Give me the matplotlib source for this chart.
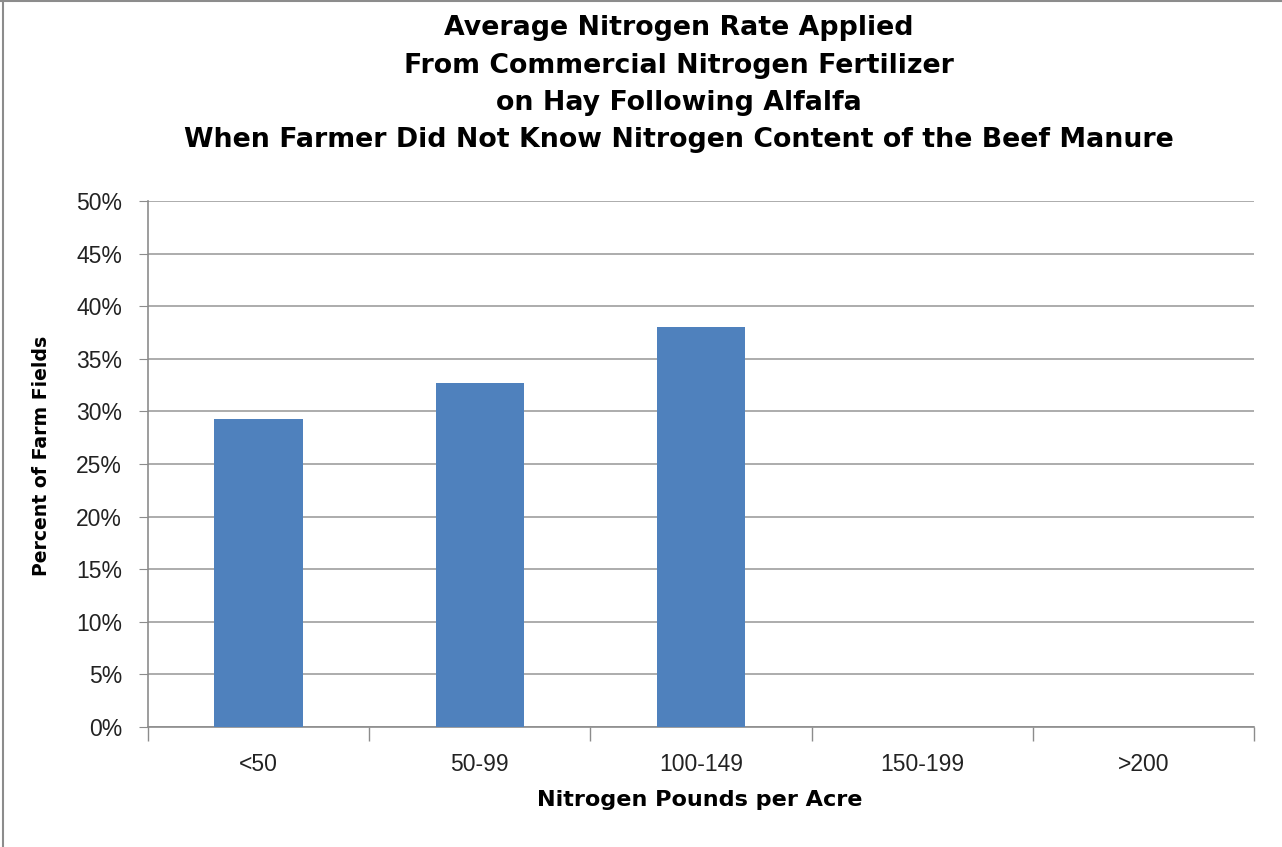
import matplotlib
matplotlib.use("Agg")
import matplotlib.pyplot as plt
from matplotlib.ticker import FixedLocator, PercentFormatter
from matplotlib.lines import Line2D

categories = ["<50", "50-99", "100-149", "150-199", ">200"]
values = [29.3, 32.7, 38.0, 0.0, 0.0]
yticks = [0, 5, 10, 15, 20, 25, 30, 35, 40, 45, 50]
title_lines = ["Average Nitrogen Rate Applied",
               "From Commercial Nitrogen Fertilizer",
               "on Hay Following Alfalfa",
               "When Farmer Did Not Know Nitrogen Content of the Beef Manure"]
xlabel = "Nitrogen Pounds per Acre"
ylabel = "Percent of Farm Fields"

W, H = 1282, 847
plt.rcParams['font.family'] = ['Liberation Sans', 'DejaVu Sans']
bold_font = ['DejaVu Sans']

fig = plt.figure(figsize=(W / 100, H / 100), dpi=100)
ax = fig.add_axes([148 / W, (H - 727) / H, 1106 / W, 526 / H])

x = list(range(len(categories)))
ax.bar(x, values, width=0.4, color="#4F81BD", zorder=3)

ax.set_xlim(-0.5, len(categories) - 0.5)
ax.set_ylim(0, 50)
ax.set_yticks(yticks)
ax.yaxis.set_major_formatter(PercentFormatter(decimals=0))
ax.grid(axis='y', color="#A6A6A6", linewidth=1.3, zorder=0)

ax.set_xticks(x)
ax.set_xticklabels(categories, fontsize=16.5)
ax.xaxis.set_minor_locator(FixedLocator([i - 0.5 for i in range(len(categories) + 1)]))
ax.tick_params(axis='x', which='major', length=0, pad=19)
ax.tick_params(axis='x', which='minor', length=10, color="#8C8C8C", width=1)
ax.tick_params(axis='y', length=6.5, color="#8C8C8C", labelsize=16.5, pad=12.3, labelcolor="#222222")
ax.tick_params(axis='x', labelcolor="#222222")

for s in ['top', 'right']:
    ax.spines[s].set_visible(False)
for s in ['left', 'bottom']:
    ax.spines[s].set_color("#8C8C8C")
    ax.spines[s].set_linewidth(1.2)

fig.text(700 / W, 1 - 800 / H, xlabel, ha='center', va='center',
         fontsize=16.1, fontweight='bold', family=bold_font)
fig.text(42 / W, 1 - 456 / H, ylabel, ha='center', va='center', rotation=90,
         fontsize=13.6, fontweight='bold', family=bold_font)

baselines = [35, 73, 110, 147]
for line, b in zip(title_lines, baselines):
    fig.text(678.5 / W, 1 - b / H, line, ha='center', va='baseline',
             fontsize=19.25, fontweight='bold', family=bold_font)

fig.add_artist(Line2D([0, 1], [1 - 1 / H, 1 - 1 / H], transform=fig.transFigure,
                      color="#8C8C8C", linewidth=1.5))
fig.add_artist(Line2D([3 / W, 3 / W], [0, 1], transform=fig.transFigure,
                      color="#8C8C8C", linewidth=1.5))

fig.savefig("out.png", dpi=100)
